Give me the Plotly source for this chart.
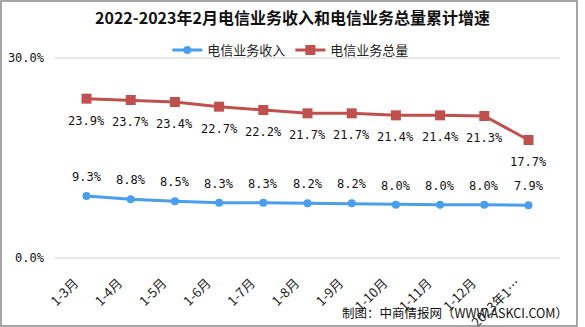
import plotly.graph_objects as go

categories = ["1-3月", "1-4月", "1-5月", "1-6月", "1-7月", "1-8月", "1-9月", "1-10月", "1-11月", "1-12月", "2023年1…"]
revenue = [9.3, 8.8, 8.5, 8.3, 8.3, 8.2, 8.2, 8.0, 8.0, 8.0, 7.9]
volume = [23.9, 23.7, 23.4, 22.7, 22.2, 21.7, 21.7, 21.4, 21.4, 21.3, 17.7]
y_ticks = [0, 30]
y_tick_labels = ["0.0%", "30.0%"]
name_rev = "电信业务收入"
name_vol = "电信业务总量"
title = "2022-2023年2月电信业务收入和电信业务总量累计增速"
source = "制图：中商情报网（WWW.ASKCI.COM）"

mono = "DejaVu Sans Mono, monospace"
cjk = "Noto Sans CJK SC"

fig = go.Figure()
fig.add_trace(go.Scatter(
    x=categories, y=revenue, name=name_rev, mode="lines+markers",
    line=dict(color="#4A9EEE", width=3), marker=dict(symbol="circle", size=8, color="#4A9EEE"),
))
fig.add_trace(go.Scatter(
    x=categories, y=volume, name=name_vol, mode="lines+markers",
    line=dict(color="#C0504D", width=3), marker=dict(symbol="square", size=10, color="#C0504D"),
))

annotations = []
for c, v in zip(categories, revenue):
    annotations.append(dict(x=c, y=v, xref="x", yref="y", text=f"{v:.1f}%", showarrow=False,
                            yshift=19, font=dict(family=mono, size=12, color="#111")))
for c, v in zip(categories, volume):
    annotations.append(dict(x=c, y=v, xref="x", yref="y", text=f"{v:.1f}%", showarrow=False,
                            yshift=-22, font=dict(family=mono, size=12, color="#111")))
annotations.append(dict(text=source, xref="paper", yref="paper", x=(570 - 55) / 505, xanchor="right",
                        y=-(312 - 258) / 200, yanchor="middle", showarrow=False,
                        font=dict(family=cjk, size=12.5, color="#111")))

# grid lines at the bottom and top of the plot area (0% and 30%)
shapes = [dict(type="line", xref="paper", yref="paper", x0=0, x1=1, y0=p, y1=p, layer="below",
               line=dict(color="#D0D0D0", width=1)) for p in (0, 1)]
shapes.append(dict(type="rect", xref="paper", yref="paper",
                   x0=-54 / 505, x1=(577 - 55) / 505, y0=-68 / 200, y1=(258 - 1) / 200,
                   line=dict(color="#888", width=1.5)))

fig.update_layout(
    width=585, height=327,
    margin=dict(l=55, r=25, t=58, b=69, autoexpand=False),
    paper_bgcolor="white", plot_bgcolor="white",
    title=dict(text=f"<b>{title}</b>", x=0.5, xanchor="center", y=0.945, yanchor="middle",
               font=dict(family=cjk, size=16, color="#111")),
    legend=dict(orientation="h", x=0.467, xanchor="center", y=1.04, yanchor="middle",
                font=dict(family=cjk, size=13, color="#222"), bgcolor="rgba(0,0,0,0)",
                itemwidth=30, tracegroupgap=0),
    showlegend=True,
    xaxis=dict(type="category", tickangle=-45, showgrid=False, showline=False, automargin=False,
               ticks="", ticklabelstandoff=14, ticklabelshift=-12,
               tickfont=dict(family=cjk, size=13, color="#222")),
    yaxis=dict(range=[0, 30], tickvals=y_ticks, ticktext=y_tick_labels, automargin=False,
               showgrid=False, zeroline=False,
               ticks="", ticklabelstandoff=10,
               tickfont=dict(family=mono, size=12, color="#111")),
    shapes=shapes,
    annotations=annotations,
)

fig.write_html("out.html")
